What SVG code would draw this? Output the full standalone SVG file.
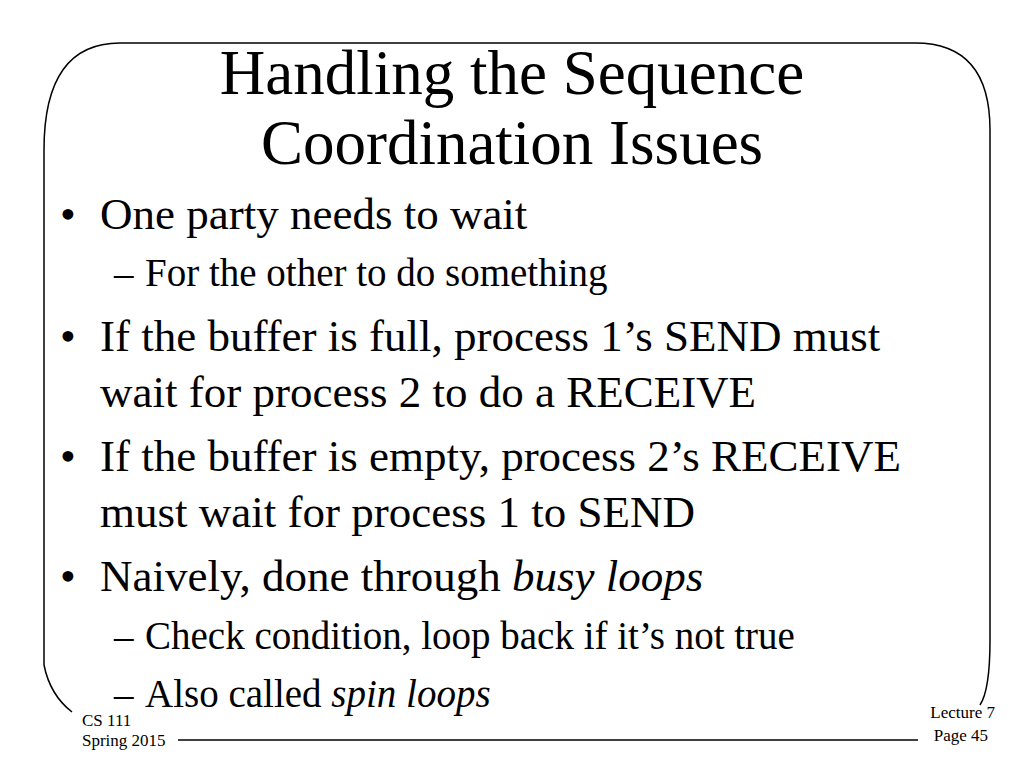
<svg xmlns="http://www.w3.org/2000/svg" width="1024" height="768" viewBox="0 0 1024 768">
<style>
text{font-family:"Liberation Serif","Times New Roman",serif;fill:#000}
.t{font-size:63px;text-anchor:middle}
.b{font-size:45px}
.s{font-size:39px}
.f{font-size:17px}
.fr{font-size:17px;text-anchor:end}
.ln{fill:none;stroke:#000;stroke-width:1.5}
</style>
<rect width="1024" height="768" fill="#fff"/>
<path class="ln" d="M44,665 L44,150 Q44,43 120,43 L915,43 Q990,43 990,130 L990,640 Q990,690 980,705"/>
<path class="ln" d="M44,665 Q50,695 72,712"/>
<path class="ln" d="M178,740 L918,740"/>
<text class="t" x="512" y="94">Handling the Sequence</text>
<text class="t" x="512" y="164">Coordination Issues</text>
<g class="b">
<text x="60" y="229">•</text><text x="100" y="229">One party needs to wait</text>
<text x="60" y="351">•</text><text x="100" y="351">If the buffer is full, process 1’s SEND must</text>
<text x="100" y="407">wait for process 2 to do a RECEIVE</text>
<text x="60" y="471">•</text><text x="100" y="471">If the buffer is empty, process 2’s RECEIVE</text>
<text x="100" y="527">must wait for process 1 to SEND</text>
<text x="60" y="591">•</text><text x="100" y="591">Naively, done through <tspan font-style="italic">busy loops</tspan></text>
</g>
<g class="s">
<text x="114" y="286">–</text><text x="145" y="286">For the other to do something</text>
<text x="114" y="649">–</text><text x="145" y="649">Check condition, loop back if it’s not true</text>
<text x="114" y="707">–</text><text x="145" y="707">Also called <tspan font-style="italic">spin loops</tspan></text>
</g>
<text class="f" x="82" y="726">CS 111</text>
<text class="f" x="82" y="746">Spring 2015</text>
<text class="fr" x="995" y="718">Lecture 7</text>
<text class="fr" x="988" y="741">Page 45</text>
</svg>
